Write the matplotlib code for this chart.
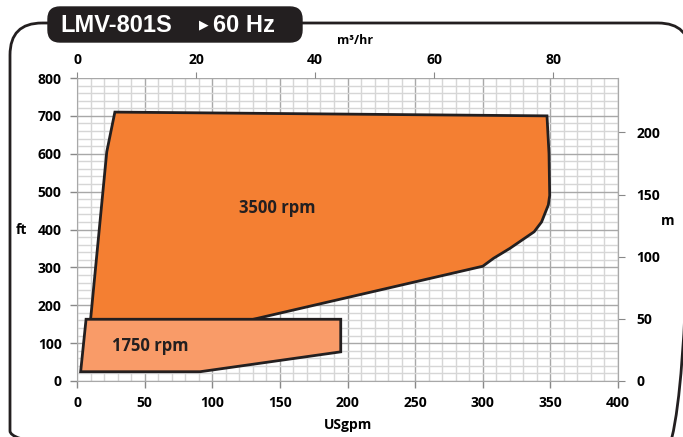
import matplotlib
matplotlib.use("Agg")
import matplotlib.pyplot as plt
import numpy as np
from matplotlib.patches import Polygon, FancyBboxPatch

plt.rcParams['font.family'] = ['Open Sans', 'DejaVu Sans']
plt.rcParams['font.weight'] = 'bold'

# ===================================================== Data ===================================================== #

title_model = "LMV-801S"
title_freq = "60 Hz"

# 3500 rpm operating range (USgpm, ft)
rpm3500_gpm = [28, 347.5, 349, 349.5, 348.5, 343.5, 338, 320, 308, 300, 128, 10, 22]
rpm3500_ft = [710, 700, 600, 490, 465, 420, 394, 350, 324, 303, 161, 161, 605]

# 1750 rpm operating range (USgpm, ft)
rpm1750_gpm = [6.7, 195, 195, 91, 2.7]
rpm1750_ft = [163, 163, 77, 24.5, 24.5]

labels = ["3500 rpm", "1750 rpm"]
label_pos = [(120, 456), (26, 92)]

x_ticks = [0, 50, 100, 150, 200, 250, 300, 350, 400]
y_ticks = [0, 100, 200, 300, 400, 500, 600, 700, 800]
m3hr_ticks = [0, 20, 40, 60, 80]
m_ticks = [0, 50, 100, 150, 200]

GPM_TO_M3HR = 0.227125
FT_TO_M = 0.3048


# ===================================================== Main ===================================================== #

def main():
    fig = plt.figure(figsize=(6.83, 4.37), dpi=100)
    ax = fig.add_axes([77 / 683, 56 / 437, 541 / 683, 303 / 437])

    # grid
    for x in range(0, 401, 10):
        c = '#a8a8a8' if x % 50 == 0 else '#d6d6d6'
        ax.axvline(x, color=c, lw=1.0, zorder=0)
    for y in range(0, 801, 20):
        c = '#a8a8a8' if y % 100 == 0 else '#d6d6d6'
        ax.axhline(y, color=c, lw=1.0, zorder=0)

    ax.add_patch(Polygon(np.column_stack([rpm3500_gpm, rpm3500_ft]), closed=True,
                         facecolor='#f47f32', edgecolor='#231f20', lw=2, zorder=3))
    ax.add_patch(Polygon(np.column_stack([rpm1750_gpm, rpm1750_ft]), closed=True,
                         facecolor='#f99b68', edgecolor='#231f20', lw=2, zorder=4))

    for lab, (x, y) in zip(labels, label_pos):
        ax.text(x, y, lab, fontsize=12, fontweight='bold', color='#231f20', zorder=5,
                ha='left', va='center')

    ax.set_xlim(0, 400)
    ax.set_ylim(0, 800)
    ax.set_xticks(x_ticks)
    ax.set_yticks(y_ticks)
    ax.tick_params(labelsize=10, length=5, color='#888888', width=1, pad=6)
    ax.spines['top'].set_visible(False)
    for s in ['left', 'bottom', 'right']:
        ax.spines[s].set_color('#a8a8a8')

    top = ax.secondary_xaxis('top', functions=(lambda g: g * GPM_TO_M3HR, lambda q: q / GPM_TO_M3HR))
    top.set_xticks(m3hr_ticks)
    top.tick_params(labelsize=10, length=4, color='#888888', pad=4)
    top.spines['top'].set_visible(False)

    right = ax.secondary_yaxis('right', functions=(lambda f: f * FT_TO_M, lambda m: m / FT_TO_M))
    right.set_yticks(m_ticks)
    right.tick_params(labelsize=10, length=5, color='#888888', pad=8)
    right.spines['right'].set_color('#a8a8a8')

    # overlay in pixel coordinates for frame, title and axis names
    ov = fig.add_axes([0, 0, 1, 1])
    ov.set_xlim(0, 683)
    ov.set_ylim(437, 0)
    ov.axis('off')
    ov.patch.set_visible(False)

    ov.add_patch(FancyBboxPatch((10, 23), 680, 440, boxstyle="round,pad=0,rounding_size=32",
                                fill=False, edgecolor='#231f20', lw=2, clip_on=False))
    ov.add_patch(FancyBboxPatch((48, 7), 254, 35, boxstyle="round,pad=0,rounding_size=12",
                                facecolor='#231f20', edgecolor='#231f20', lw=1, zorder=3))
    ov.text(60, 25, title_model, fontsize=17, fontweight='bold', color='white', ha='left',
            va='center', family=['Liberation Sans', 'DejaVu Sans'], zorder=4)
    ov.text(204, 25, "\u25B6", fontsize=9, color='white', ha='center',
            va='center', family=['DejaVu Sans'], zorder=4)
    ov.text(213, 25, title_freq, fontsize=17, fontweight='bold', color='white', ha='left',
            va='center', family=['Liberation Sans', 'DejaVu Sans'], zorder=4)

    ov.text(348, 425, "USgpm", fontsize=10, fontweight='bold', ha='center', va='center')
    ov.text(22, 230, "ft", fontsize=10, fontweight='bold', ha='center', va='center')
    ov.text(668, 221, "m", fontsize=10, fontweight='bold', ha='center', va='center')
    ov.text(355, 40, "m\u00b3/hr", fontsize=9, fontweight='bold', ha='center', va='center')

    fig.savefig("out.png", dpi=100)


if __name__ == '__main__':
    main()
